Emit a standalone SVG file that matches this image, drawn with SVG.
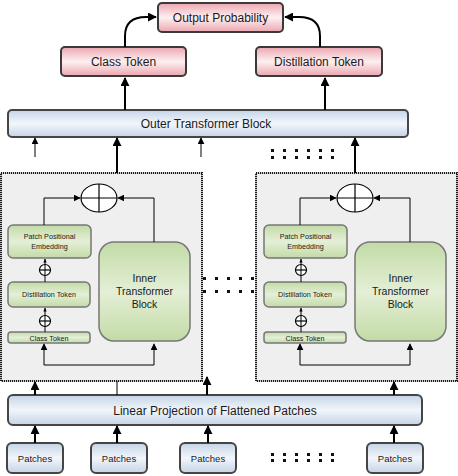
<svg xmlns="http://www.w3.org/2000/svg" width="458" height="476" viewBox="0 0 458 476">
<style>
text{font-family:"Liberation Sans",Arial,sans-serif;fill:#1a1a1a;text-anchor:middle}
.pink{fill:url(#gp);stroke:#3a3a3a;stroke-width:2}
.blue{fill:url(#gb);stroke:#454545;stroke-width:2}
.green{fill:url(#gg);stroke:#777;stroke-width:1.5}
.big{fill:#efefef;stroke:#1a1a1a;stroke-width:2;stroke-dasharray:1.2 0.8}
.t12{font-size:12px}
.t9{font-size:9.5px}
.t7{font-size:7.2px}
.t10{font-size:10.5px}
.c{fill:none;stroke:#000}
.w2{stroke-width:2}
.w1{stroke-width:1}
.dot{fill:#111}
</style>
<defs>
<linearGradient id="gp" x1="0" y1="0" x2="0" y2="1">
<stop offset="0" stop-color="#eba6b0"/><stop offset="0.5" stop-color="#fdf0f1"/><stop offset="1" stop-color="#eba6b0"/>
</linearGradient>
<linearGradient id="gb" x1="0" y1="0" x2="0" y2="1">
<stop offset="0" stop-color="#c4d4e6"/><stop offset="0.5" stop-color="#f2f6fb"/><stop offset="1" stop-color="#c4d4e6"/>
</linearGradient>
<linearGradient id="gg" x1="0" y1="0" x2="0" y2="1">
<stop offset="0" stop-color="#c2dba6"/><stop offset="0.5" stop-color="#e4efd6"/><stop offset="1" stop-color="#c2dba6"/>
</linearGradient>
<marker id="ah" viewBox="0 0 10 10" refX="9" refY="5" markerWidth="4.5" markerHeight="4.5" markerUnits="strokeWidth" orient="auto">
<path d="M0,0 L10,5 L0,10 Z" fill="#000"/>
</marker>
<marker id="as" viewBox="0 0 10 10" refX="9" refY="5" markerWidth="7" markerHeight="7" markerUnits="strokeWidth" orient="auto">
<path d="M0,0 L10,5 L0,10 Z" fill="#000"/>
</marker>
<marker id="at" viewBox="0 0 10 10" refX="9" refY="5" markerWidth="4" markerHeight="4" markerUnits="strokeWidth" orient="auto">
<path d="M0,1 L10,5 L0,9 Z" fill="#000"/>
</marker>
</defs>

<g id="left-block">
<rect class="big" x="1" y="173" width="201" height="208"/>
</g>
<g id="right-block">
<rect class="big" x="256" y="173" width="201" height="208"/>
</g>

<g id="output-probability"><rect class="pink" x="158" y="3" width="125" height="29" rx="4"/><text class="t12" x="220.5" y="22">Output Probability</text></g>
<g id="class-token"><rect class="pink" x="61" y="47" width="125" height="29" rx="4"/><text class="t12" x="123.5" y="66">Class Token</text></g>
<g id="distillation-token"><rect class="pink" x="256" y="47" width="126" height="29" rx="4"/><text class="t12" x="319" y="66">Distillation Token</text></g>
<g id="outer-transformer"><rect class="blue" x="8" y="110" width="400" height="27" rx="4"/><text class="t12" x="206" y="128">Outer Transformer Block</text></g>
<g id="linear-projection"><rect class="blue" x="8" y="395" width="414" height="30" rx="5"/><text class="t12" x="215" y="415">Linear Projection of Flattened Patches</text></g>

<g id="patches-1"><rect class="blue" x="7" y="443" width="56" height="30" rx="5"/><text class="t9" x="35" y="462">Patches</text></g>
<g id="patches-2"><rect class="blue" x="91" y="443" width="56" height="30" rx="5"/><text class="t9" x="119" y="462">Patches</text></g>
<g id="patches-3"><rect class="blue" x="180" y="443" width="56" height="30" rx="5"/><text class="t9" x="208" y="462">Patches</text></g>
<g id="patches-4"><rect class="blue" x="367" y="443" width="56" height="30" rx="5"/><text class="t9" x="395" y="462">Patches</text></g>

<g id="left-ppe"><rect class="green" x="8" y="225" width="83" height="33" rx="5"/><text class="t7" x="49.5" y="239">Patch Positional</text><text class="t7" x="49.5" y="249">Embedding</text></g>
<g id="left-dist"><rect class="green" x="8" y="282" width="82" height="25" rx="5"/><text class="t7" x="49" y="297">Distillation Token</text></g>
<g id="left-cls"><rect class="green" x="8" y="332" width="82" height="11" rx="3"/><text class="t7" x="49" y="340.5">Class Token</text></g>
<g id="left-inner"><rect class="green" x="99" y="242" width="91" height="99" rx="15"/><text class="t10" x="144.5" y="282">Inner</text><text class="t10" x="144.5" y="295">Transformer</text><text class="t10" x="144.5" y="308">Block</text></g>
<g id="left-sum"><ellipse cx="99" cy="198" rx="18" ry="14" fill="#fff" stroke="#000" stroke-width="1.2"/><path d="M81,198 H117 M99,184 V212" stroke="#000" stroke-width="1.2"/></g>
<g id="left-plus1"><circle cx="45" cy="270" r="5.5" fill="#fff" stroke="#000" stroke-width="1.2"/><path d="M39.5,270 H50.5" stroke="#000" stroke-width="1.2"/></g>
<g id="left-plus2"><circle cx="45" cy="321" r="5.5" fill="#fff" stroke="#000" stroke-width="1.2"/><path d="M39.5,321 H50.5" stroke="#000" stroke-width="1.2"/></g>

<g id="right-ppe"><rect class="green" x="264" y="225" width="83" height="33" rx="5"/><text class="t7" x="305.5" y="239">Patch Positional</text><text class="t7" x="305.5" y="249">Embedding</text></g>
<g id="right-dist"><rect class="green" x="264" y="282" width="82" height="25" rx="5"/><text class="t7" x="305" y="297">Distillation Token</text></g>
<g id="right-cls"><rect class="green" x="264" y="332" width="82" height="11" rx="3"/><text class="t7" x="305" y="340.5">Class Token</text></g>
<g id="right-inner"><rect class="green" x="355" y="242" width="91" height="99" rx="15"/><text class="t10" x="400.5" y="282">Inner</text><text class="t10" x="400.5" y="295">Transformer</text><text class="t10" x="400.5" y="308">Block</text></g>
<g id="right-sum"><ellipse cx="355" cy="198" rx="18" ry="14" fill="#fff" stroke="#000" stroke-width="1.2"/><path d="M337,198 H373 M355,184 V212" stroke="#000" stroke-width="1.2"/></g>
<g id="right-plus1"><circle cx="301" cy="270" r="5.5" fill="#fff" stroke="#000" stroke-width="1.2"/><path d="M295.5,270 H306.5" stroke="#000" stroke-width="1.2"/></g>
<g id="right-plus2"><circle cx="301" cy="321" r="5.5" fill="#fff" stroke="#000" stroke-width="1.2"/><path d="M295.5,321 H306.5" stroke="#000" stroke-width="1.2"/></g>

<g id="connectors">
<path class="c w2" d="M125,47 V36 Q125,17 146,17 H156" marker-end="url(#ah)"/>
<path class="c w2" d="M320,47 V36 Q320,17 299,17 H285" marker-end="url(#ah)"/>
<path class="c w2" d="M125,110 V78" marker-end="url(#ah)"/>
<path class="c w2" d="M325,110 V78" marker-end="url(#ah)"/>
<path class="c w1" d="M35,157 V138" marker-end="url(#as)"/>
<path class="c w2" d="M117,173 V138" marker-end="url(#ah)"/>
<path class="c w1" d="M201,157 V138" marker-end="url(#as)"/>
<path class="c w2" d="M355,173 V138" marker-end="url(#ah)"/>

<path class="c w1" d="M44,225 V198 H80" marker-end="url(#as)"/>
<path class="c w1" d="M154,242 V198 H118" marker-end="url(#as)"/>
<path class="c w1" d="M45,282 V259" marker-end="url(#at)"/>
<path class="c w1" d="M45,332 V308" marker-end="url(#at)"/>
<path class="c w1" d="M44,365 V344" marker-end="url(#as)"/>
<path class="c w1" d="M154,365 V344" marker-end="url(#as)"/>
<path class="c w1" d="M44,365 H154"/>

<path class="c w1" d="M300,225 V198 H336" marker-end="url(#as)"/>
<path class="c w1" d="M410,242 V198 H374" marker-end="url(#as)"/>
<path class="c w1" d="M301,282 V259" marker-end="url(#at)"/>
<path class="c w1" d="M301,332 V308" marker-end="url(#at)"/>
<path class="c w1" d="M300,365 V344" marker-end="url(#as)"/>
<path class="c w1" d="M410,365 V344" marker-end="url(#as)"/>
<path class="c w1" d="M300,365 H410"/>

<path class="c w2" d="M35,395 V382" marker-end="url(#ah)"/>
<path class="c w1" d="M117,395 V381"/>
<path class="c w2" d="M207,395 V377" marker-end="url(#ah)"/>
<path class="c w2" d="M394,395 V382" marker-end="url(#ah)"/>

<path class="c w2" d="M35,443 V426" marker-end="url(#ah)"/>
<path class="c w2" d="M117,443 V426" marker-end="url(#ah)"/>
<path class="c w2" d="M208,443 V426" marker-end="url(#ah)"/>
<path class="c w2" d="M394,443 V426" marker-end="url(#ah)"/>
</g>

<g id="ellipsis-dots">
<g class="dot">
<rect x="271" y="149" width="3" height="3"/><rect x="283" y="149" width="3" height="3"/><rect x="295" y="149" width="3" height="3"/><rect x="307" y="149" width="3" height="3"/><rect x="319" y="149" width="3" height="3"/><rect x="331" y="149" width="3" height="3"/>
<rect x="271" y="156" width="3" height="3"/><rect x="283" y="156" width="3" height="3"/><rect x="295" y="156" width="3" height="3"/><rect x="307" y="156" width="3" height="3"/><rect x="319" y="156" width="3" height="3"/><rect x="331" y="156" width="3" height="3"/>
<rect x="203" y="277" width="3" height="3"/><rect x="215" y="277" width="3" height="3"/><rect x="227" y="277" width="3" height="3"/><rect x="239" y="277" width="3" height="3"/><rect x="251" y="277" width="3" height="3"/>
<rect x="203" y="290" width="3" height="3"/><rect x="215" y="290" width="3" height="3"/><rect x="227" y="290" width="3" height="3"/><rect x="239" y="290" width="3" height="3"/><rect x="251" y="290" width="3" height="3"/>
<rect x="271" y="453" width="3" height="3"/><rect x="283" y="453" width="3" height="3"/><rect x="295" y="453" width="3" height="3"/><rect x="307" y="453" width="3" height="3"/><rect x="319" y="453" width="3" height="3"/><rect x="331" y="453" width="3" height="3"/>
<rect x="271" y="459" width="3" height="3"/><rect x="283" y="459" width="3" height="3"/><rect x="295" y="459" width="3" height="3"/><rect x="307" y="459" width="3" height="3"/><rect x="319" y="459" width="3" height="3"/><rect x="331" y="459" width="3" height="3"/>
</g>
</g>
</svg>
